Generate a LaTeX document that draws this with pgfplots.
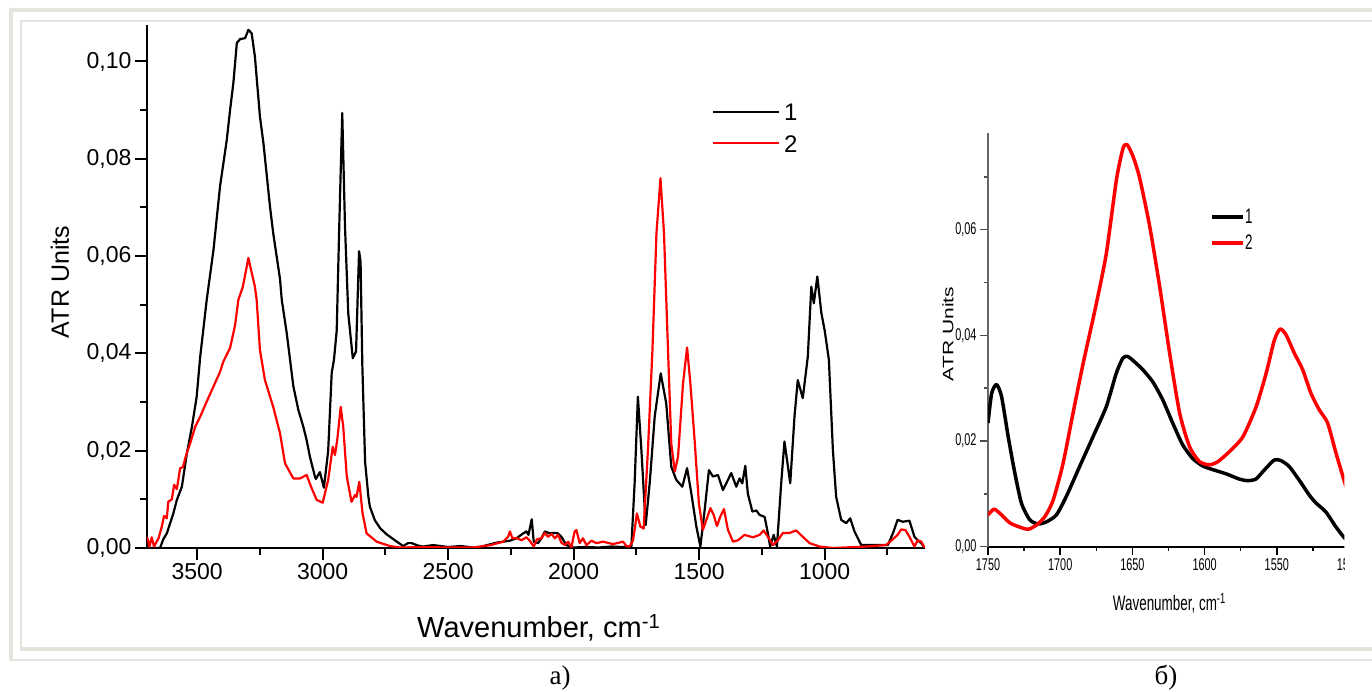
\documentclass[border=0pt]{standalone}
\usepackage{fontspec}
\setmainfont{Liberation Sans}
\newfontfamily\serifcyr{Liberation Serif}
\newfontfamily\narrowfont[FakeStretch=0.64]{Liberation Sans}
\usepackage{graphicx}
\usepackage{pgfplots}
\pgfplotsset{compat=1.18}
\definecolor{framegray}{RGB}{227,228,220}
\begin{document}
\begin{tikzpicture}[x=1pt,y=1pt]
\useasboundingbox (0,0) rectangle (1372,692);
\fill[white] (0,0) rectangle (1372,692);
% frame
\draw[framegray, line width=4pt] (9,682) -- (1372,682);
\draw[framegray, line width=4pt] (11,684) -- (11,31.3);
\draw[framegray, line width=2pt] (9,32.3) -- (1372,32.3);
\draw[framegray, line width=2pt] (20,671) -- (1372,671);
\draw[framegray, line width=2pt] (21,672) -- (21,41.3);
\draw[framegray, line width=3.4pt] (20,43) -- (1372,43);

\begin{axis}[
  at={(147pt,144pt)}, anchor=south west, scale only axis,
  width=778pt, height=523pt,
  xmin=600, xmax=3700, ymin=0, ymax=0.1075, x dir=reverse,
  axis x line*=bottom, axis y line*=left,
  axis line style={black, line width=2pt},
  xtick={500,1000,...,3500}, minor x tick num=1,
  ytick={0,0.02,0.04,0.06,0.08,0.1}, minor y tick num=1,
  scaled y ticks=false,
  tick align=outside, major tick length=12pt, minor tick length=7pt,
  tick style={black, line width=2pt},
  ticklabel style={font=\fontsize{23}{23}\selectfont},
  xticklabel style={/pgf/number format/1000 sep={}, /pgf/number format/assume math mode=true},
  yticklabel style={/pgf/number format/fixed, /pgf/number format/fixed zerofill, /pgf/number format/precision=2, /pgf/number format/use comma, /pgf/number format/assume math mode=true},
  every axis plot/.append style={line join=round},
]
\addplot[black, line width=2.2pt] coordinates {
(3700,0) (3648,0) (3635,0.0018) (3621,0.003) (3595,0.0071) (3581,0.0099) (3561,0.0126)
(3541,0.0195) (3521,0.0249) (3502,0.0311) (3488,0.0393) (3462,0.051) (3435,0.0613)
(3409,0.0743) (3382,0.0839) (3369,0.090) (3356,0.0955) (3342,0.1038) (3329,0.1046)
(3309,0.1048) (3296,0.1065) (3283,0.1058) (3270,0.101) (3250,0.0887) (3236,0.0832)
(3210,0.0702) (3197,0.0647) (3170,0.0553) (3163,0.051) (3143,0.0441) (3117,0.0333)
(3097,0.0284) (3077,0.0249) (3064,0.0222) (3051,0.0188) (3031,0.0147) (3027,0.0142)
(3011,0.0156) (2995,0.0124) (2978,0.020) (2964,0.036) (2955,0.0387) (2944,0.0447)
(2934,0.066) (2922,0.0894) (2911,0.066) (2898,0.0482) (2880,0.039) (2867,0.0404)
(2855,0.061) (2849,0.0589) (2842,0.0376) (2831,0.0177) (2818,0.0106) (2812,0.0085)
(2792,0.0057) (2770,0.004) (2745,0.0028) (2710,0.0015) (2679,0.0004) (2660,0.001)
(2646,0.001) (2620,0.0005) (2600,0.0003) (2560,0.0006) (2500,0.0002) (2450,0.0004)
(2400,0.0001) (2374,0.0002) (2307,0.0011) (2254,0.0015) (2228,0.002) (2201,0.003)
(2188,0.0034) (2180,0.0027) (2167,0.0059) (2159,0.0013) (2142,0.001) (2128,0.002)
(2115,0.0034) (2095,0.003) (2082,0.0031) (2062,0.003) (2049,0.0023) (2029,0.0006)
(2002,0.0001) (1950,0.0002) (1900,0.0001) (1850,0.0003) (1800,0.0002) (1770,0.0003)
(1757,0.0133) (1744,0.0311) (1730,0.0201) (1713,0.0047) (1697,0.0133) (1677,0.027)
(1653,0.0359) (1631,0.0297) (1611,0.0167) (1591,0.014) (1567,0.0126) (1548,0.0164)
(1531,0.0112) (1511,0.0044) (1495,0.0003) (1478,0.0078) (1461,0.016) (1445,0.0147)
(1425,0.015) (1405,0.0119) (1372,0.0154) (1352,0.0126) (1339,0.0143) (1328,0.0133)
(1316,0.0169) (1306,0.0112) (1288,0.0075) (1272,0.0077) (1259,0.0068) (1239,0.0064)
(1226,0.003) (1217,0.0003) (1203,0.0027) (1190,0.0003) (1173,0.0133) (1160,0.0219)
(1137,0.0133) (1120,0.027) (1107,0.0345) (1087,0.0308) (1067,0.0393) (1053,0.0537)
(1043,0.0503) (1029,0.0558) (1013,0.0483) (1000,0.0448) (983,0.0387) (967,0.0201)
(954,0.0105) (934,0.0058) (914,0.0051) (898,0.0061) (881,0.0034) (854,0.0006)
(821,0.0006) (781,0.0006) (748,0.0006) (728,0.003) (709,0.0058) (689,0.0054)
(662,0.0056) (642,0.0023) (629,0.0016) (615,0.001) (602,0.0001)
};
\addplot[red, line width=2.2pt] coordinates {
(3700,0.0023) (3690,0.0003) (3681,0.0022) (3672,0.0003) (3654,0.002) (3641,0.0044)
(3632,0.0066) (3621,0.0061) (3615,0.0095) (3601,0.01) (3592,0.013) (3581,0.0121)
(3568,0.0164) (3557,0.0166) (3544,0.0191) (3528,0.0215) (3508,0.0249) (3488,0.027)
(3462,0.0301) (3435,0.0332) (3409,0.0362) (3396,0.0383) (3369,0.0411) (3349,0.0458)
(3336,0.051) (3318,0.0537) (3296,0.0596) (3270,0.0537) (3263,0.051) (3250,0.0407)
(3230,0.0345) (3197,0.029) (3170,0.0236) (3150,0.0174) (3117,0.0143) (3090,0.0143)
(3064,0.015) (3044,0.0123) (3024,0.0099) (3000,0.0093) (2978,0.014) (2960,0.0208)
(2951,0.0191) (2942,0.0222) (2928,0.029) (2918,0.0249) (2904,0.0147) (2885,0.0095)
(2871,0.0109) (2865,0.0105) (2854,0.0136) (2841,0.0071) (2825,0.003) (2785,0.0013)
(2732,0.0004) (2692,0.0001) (2600,0.0002) (2500,0.0001) (2400,0.0001) (2330,0.0006)
(2281,0.0013) (2261,0.0023) (2254,0.0034) (2244,0.002) (2225,0.002) (2208,0.0016)
(2188,0.0022) (2175,0.0015) (2159,0.0003) (2146,0.0018) (2128,0.002) (2115,0.0031)
(2102,0.0023) (2088,0.0029) (2075,0.002) (2062,0.0027) (2049,0.0011) (2035,0.0006)
(2022,0.0013) (2009,0.0001) (1996,0.0034) (1989,0.0037) (1976,0.001) (1963,0.002)
(1949,0.0006) (1929,0.0015) (1909,0.001) (1883,0.0013) (1843,0.0008) (1803,0.0013)
(1790,0.0004) (1777,0.0003) (1764,0.0015) (1757,0.0037) (1748,0.0071) (1734,0.0044)
(1721,0.004) (1704,0.0201) (1686,0.0407) (1670,0.0647) (1654,0.076) (1640,0.0647)
(1624,0.0407) (1611,0.0215) (1597,0.0157) (1584,0.0188) (1564,0.0339) (1548,0.0412)
(1535,0.0339) (1518,0.0222) (1501,0.0092) (1485,0.0037) (1471,0.0058) (1455,0.0082)
(1442,0.0068) (1429,0.0045) (1416,0.0064) (1401,0.008) (1385,0.0037) (1365,0.0013)
(1345,0.0016) (1319,0.0027) (1286,0.0022) (1259,0.0027) (1243,0.0036) (1226,0.0023)
(1206,0.0006) (1186,0.0016) (1166,0.0031) (1140,0.0031) (1113,0.0036) (1087,0.0023)
(1060,0.001) (1020,0.0003) (967,0.0) (834,0.0003) (755,0.0006) (728,0.0018)
(709,0.0027) (695,0.0038) (678,0.0037) (662,0.0023) (642,0.0003) (629,0.0016)
(615,0.0013) (602,0.0001)
};
\end{axis}

\node[rotate=90, font=\fontsize{25}{25}\selectfont] at (60,410) {ATR Units};
\node[anchor=base west, inner sep=0pt, font=\fontsize{29}{29}\selectfont] at (417,54.3) {Wavenumber, cm\textsuperscript{-1}};
\draw[black, line width=2pt] (713,580.3) -- (779,580.3);
\draw[red, line width=2pt] (713,548.7) -- (779,548.7);
\node[anchor=base west, inner sep=0pt, font=\fontsize{24}{24}\selectfont] at (784,571.3) {1};
\node[anchor=base west, inner sep=0pt, font=\fontsize{24}{24}\selectfont] at (784,539.3) {2};

\begin{scope}
\clip (900,0) rectangle (1344.3,692);
\begin{axis}[
  at={(988pt,145.3pt)}, anchor=south west, scale only axis,
  width=361pt, height=413.7pt,
  xmin=1500, xmax=1750, ymin=0, ymax=0.0783, x dir=reverse,
  axis x line*=bottom, axis y line*=left,
  x axis line style={black, line width=2pt},
  y axis line style={black!60, line width=1.5pt},
  xtick={1500,1550,...,1750}, minor x tick num=1,
  ytick={0,0.02,0.04,0.06,0.08}, minor y tick num=1,
  scaled y ticks=false,
  tick align=outside, major tick length=8pt, minor tick length=4pt,
  x tick style={black, line width=1.5pt},
  y tick style={black!70, line width=1.5pt},
  ticklabel style={font=\narrowfont\fontsize{17}{17}\selectfont},
  xticklabel style={/pgf/number format/1000 sep={}, /pgf/number format/assume math mode=true},
  yticklabel style={/pgf/number format/fixed, /pgf/number format/fixed zerofill, /pgf/number format/precision=2, /pgf/number format/use comma, /pgf/number format/assume math mode=true},
  every axis plot/.append style={line join=round},
]
\addplot[black, line width=3.5pt, smooth, tension=0.4] coordinates {
(1750,0.0234) (1747.5,0.029) (1744.1,0.0307) (1740.6,0.0284) (1736,0.0208) (1731.4,0.0139)
(1726.8,0.0082) (1721.1,0.0051) (1715.3,0.0043) (1709.6,0.0047) (1702.7,0.006) (1695.8,0.0095)
(1686.5,0.0152) (1677.3,0.0208) (1668.1,0.0265) (1661.2,0.0328) (1656.6,0.0357) (1653.2,0.036)
(1648.6,0.035) (1642.8,0.0335) (1635.9,0.0312) (1629,0.0278) (1622.1,0.0234) (1615.2,0.0193)
(1608.3,0.0167) (1601.4,0.0153) (1594.5,0.0146) (1585.2,0.0138) (1576,0.0128) (1570.3,0.0125)
(1564.5,0.0128) (1558.7,0.0145) (1551.8,0.0164) (1547.2,0.0163) (1541.5,0.0152) (1534.5,0.0126)
(1527.6,0.0098) (1523,0.0083) (1516.1,0.0066) (1509.2,0.0038) (1503.9,0.0019) (1500,0.0008)
};
\addplot[red, line width=3.5pt, smooth, tension=0.4] coordinates {
(1750,0.006) (1745.9,0.0071) (1741.7,0.0063) (1734.8,0.0045) (1727.9,0.0037) (1722.2,0.0033)
(1716.4,0.0041) (1710.6,0.0057) (1704.9,0.0088) (1698,0.0158) (1691.1,0.0253) (1684.1,0.0347)
(1674.9,0.0461) (1668,0.0556) (1661.1,0.0694) (1656.5,0.0754) (1653.7,0.0761) (1649.6,0.0739)
(1645,0.0698) (1638,0.0606) (1631.1,0.0492) (1624.2,0.0366) (1617.3,0.0253) (1610.4,0.0189)
(1603.5,0.0161) (1596.6,0.0155) (1590.8,0.0161) (1582.8,0.018) (1573.5,0.0208) (1564.3,0.0265)
(1557.4,0.0328) (1551.7,0.0391) (1547.7,0.0412) (1543.6,0.0401) (1537.8,0.0366) (1532.1,0.0335)
(1526.3,0.029) (1520.6,0.0259) (1514.8,0.0234) (1509,0.0177) (1503.8,0.0129) (1500,0.0095)
};
\end{axis}
\end{scope}

\node[rotate=90] at (948,358) {\scalebox{1}[0.72]{\fontsize{21}{21}\selectfont ATR Units}};
\node[anchor=base west, inner sep=0pt, font=\narrowfont\fontsize{21}{21}\selectfont] at (1112.7,81.3) {Wavenumber, cm\textsuperscript{-1}};
\draw[black, line width=3.5pt] (1212,475) -- (1243,475);
\draw[red, line width=3.5pt] (1212,449) -- (1243,449);
\node[anchor=base west, inner sep=0pt, font=\narrowfont\fontsize{21}{21}\selectfont] at (1245,468.7) {1};
\node[anchor=base west, inner sep=0pt, font=\narrowfont\fontsize{21}{21}\selectfont] at (1245,442.7) {2};

\node[anchor=base, font=\serifcyr\fontsize{27}{27}\selectfont] at (560,7.5) {а)};
\node[anchor=base, font=\serifcyr\fontsize{27}{27}\selectfont] at (1166,7.5) {б)};
\end{tikzpicture}
\end{document}
